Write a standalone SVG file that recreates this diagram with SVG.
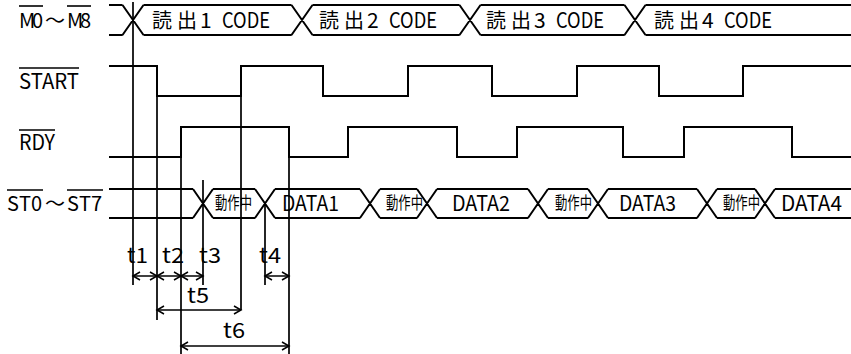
<svg xmlns="http://www.w3.org/2000/svg" width="851" height="354" viewBox="0 0 851 354">
<style>
text{font-family:"Noto Sans CJK JP","Noto Sans",sans-serif;fill:#000}
.lbl{font-size:20px}
.lat{font-size:21px}
.sm{font-size:17px}
.sig{fill:none;stroke:#000;stroke-width:2}
.ol{stroke:#000;stroke-width:1.6}
.vl{fill:none;stroke:#000;stroke-width:1.7}
.ar{fill:none;stroke:#000;stroke-width:1.5;marker-start:url(#ah);marker-end:url(#ah)}
</style>
<defs>
<marker id="ah" markerUnits="userSpaceOnUse" markerWidth="12" markerHeight="12" refX="8" refY="5" orient="auto-start-reverse" overflow="visible">
<path d="M1,1 L8,5 L1,9" fill="none" stroke="#000" stroke-width="1.5"/>
</marker>
</defs>
<rect width="851" height="354" fill="#fff"/>

<g id="sig-m">
<text class="lbl" x="19 32 45 67 80" y="28">M0～M8</text>
<line class="ol" x1="19" y1="6" x2="43" y2="6"/>
<line class="ol" x1="67" y1="6" x2="91" y2="6"/>
<path class="sig" d="M109,5 H122.5 M143.5,5 H291.5 M312.5,5 H459.5 M480.5,5 H624.5 M645.5,5 H851 M109,35 H122.5 M143.5,35 H291.5 M312.5,35 H459.5 M480.5,35 H624.5 M645.5,35 H851 M122.5,5 L143.5,35 M122.5,35 L143.5,5 M291.5,5 L312.5,35 M291.5,35 L312.5,5 M459.5,5 L480.5,35 M459.5,35 L480.5,5 M624.5,5 L645.5,35 M624.5,35 L645.5,5"/>
<text class="lbl" x="152 177" y="28">読出</text>
<text class="lat" x="200" y="28">1</text>
<text class="lat" x="222" y="28" textLength="48" lengthAdjust="spacingAndGlyphs">CODE</text>
<text class="lbl" x="319 344" y="28">読出</text>
<text class="lat" x="367" y="28">2</text>
<text class="lat" x="389" y="28" textLength="48" lengthAdjust="spacingAndGlyphs">CODE</text>
<text class="lbl" x="486 511" y="28">読出</text>
<text class="lat" x="534" y="28">3</text>
<text class="lat" x="556" y="28" textLength="48" lengthAdjust="spacingAndGlyphs">CODE</text>
<text class="lbl" x="654 679" y="28">読出</text>
<text class="lat" x="702" y="28">4</text>
<text class="lat" x="724" y="28" textLength="48" lengthAdjust="spacingAndGlyphs">CODE</text>
</g>

<g id="sig-start">
<text class="lat" x="19" y="89" textLength="60" lengthAdjust="spacingAndGlyphs">START</text>
<line class="ol" x1="19" y1="68" x2="79" y2="68"/>
<path class="sig" d="M109,66 H157 V96 H241 V66 H323 V96 H408 V66 H492 V96 H577 V66 H659 V96 H743 V66 H851"/>
</g>

<g id="sig-rdy">
<text class="lat" x="19" y="150" textLength="36" lengthAdjust="spacingAndGlyphs">RDY</text>
<line class="ol" x1="19" y1="130" x2="55" y2="130"/>
<path class="sig" d="M109,157 H181 V127 H289 V157 H348 V127 H457 V157 H517 V127 H623 V157 H684 V127 H792 V157 H851"/>
</g>

<g id="sig-st">
<text class="lbl" x="7 19 31 45 67 79 91" y="211">ST0～ST7</text>
<line class="ol" x1="7" y1="190" x2="43" y2="190"/>
<line class="ol" x1="67" y1="190" x2="103" y2="190"/>
<path class="sig" d="M109,189 H193 M213,189 H255 M275,189 H360 M380,189 H417 M437,189 H528 M548,189 H588 M608,189 H697 M717,189 H755 M775,189 H851 M109,218 H193 M213,218 H255 M275,218 H360 M380,218 H417 M437,218 H528 M548,218 H588 M608,218 H697 M717,218 H755 M775,218 H851 M193,189 L213,218 M193,218 L213,189 M255,189 L275,218 M255,218 L275,189 M360,189 L380,218 M360,218 L380,189 M417,189 L437,218 M417,218 L437,189 M528,189 L548,218 M528,218 L548,189 M588,189 L608,218 M588,218 L608,189 M697,189 L717,218 M697,218 L717,189 M755,189 L775,218 M755,218 L775,189"/>
<text class="sm" x="215" y="209" textLength="37" lengthAdjust="spacingAndGlyphs">動作中</text>
<text class="lat" x="282" y="211" textLength="57" lengthAdjust="spacingAndGlyphs">DATA1</text>
<text class="sm" x="386" y="209" textLength="37" lengthAdjust="spacingAndGlyphs">動作中</text>
<text class="lat" x="452" y="211" textLength="58" lengthAdjust="spacingAndGlyphs">DATA2</text>
<text class="sm" x="555" y="209" textLength="37" lengthAdjust="spacingAndGlyphs">動作中</text>
<text class="lat" x="619" y="211" textLength="57" lengthAdjust="spacingAndGlyphs">DATA3</text>
<text class="sm" x="723" y="209" textLength="37" lengthAdjust="spacingAndGlyphs">動作中</text>
<text class="lat" x="781" y="211" textLength="61" lengthAdjust="spacingAndGlyphs">DATA4</text>
</g>

<g id="connectors">
<path class="vl" d="M133,2 V285 M157,96 V320 M181,157 V354 M203,180 V285 M241,96 V310 M265,203.5 V285 M289,157 V354"/>
<line class="ar" x1="133" y1="276" x2="157" y2="276"/>
<line class="ar" x1="157" y1="276" x2="181" y2="276"/>
<line class="ar" x1="181" y1="276" x2="203" y2="276"/>
<line class="ar" x1="265" y1="276" x2="289" y2="276"/>
<line class="ar" x1="157" y1="310" x2="241" y2="310"/>
<line class="ar" x1="181" y1="346" x2="289" y2="346"/>
</g>

<g id="timing-labels">
<text class="lat" x="127" y="263" textLength="21" lengthAdjust="spacingAndGlyphs">t1</text>
<text class="lat" x="162" y="263" textLength="22" lengthAdjust="spacingAndGlyphs">t2</text>
<text class="lat" x="199" y="263" textLength="22" lengthAdjust="spacingAndGlyphs">t3</text>
<text class="lat" x="259" y="263" textLength="22" lengthAdjust="spacingAndGlyphs">t4</text>
<text class="lat" x="187" y="303" textLength="22" lengthAdjust="spacingAndGlyphs">t5</text>
<text class="lat" x="223" y="338" textLength="22" lengthAdjust="spacingAndGlyphs">t6</text>
</g>
</svg>
